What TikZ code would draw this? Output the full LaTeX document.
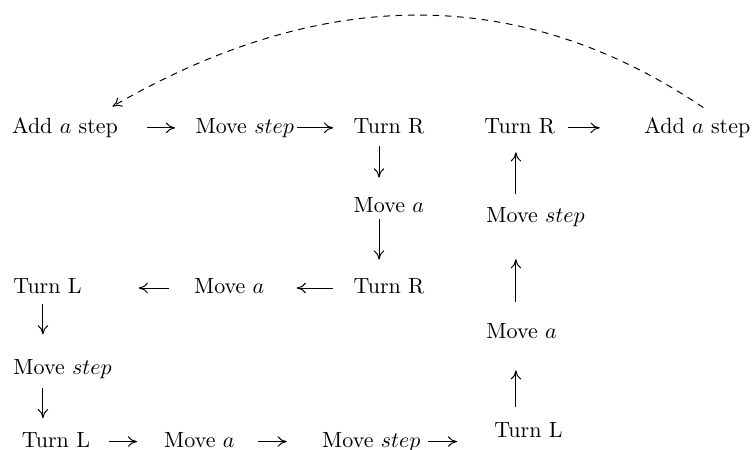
\documentclass[tikz,border=0pt]{standalone}
\usepackage{amsmath}
\usepackage{tikz}
\usetikzlibrary{positioning,arrows.meta}

\begin{document}
\begin{tikzpicture}[
    cmd/.style={inner sep=0pt,text height=7pt,text depth=2pt},
    arrow/.style={-{To[length=4.2pt,width=4.8pt]},line width=0.45pt},
    back/.style={-{To[length=4.2pt,width=4.8pt]},line width=0.45pt,dash pattern=on 3pt off 2.6pt}
]
\useasboundingbox (-5.3pt,58.1pt) rectangle (337.4pt,-146pt);

% top row
\node[cmd,anchor=west] (A1) at (0,0) {Add $a$ step};
\node[cmd,right=34.9pt of A1] (M1) {Move $step$};
\node[cmd,right=26.8pt of M1] (R1) {Turn R};
\node[cmd,right=26.9pt of R1] (R3) {Turn R};
\node[cmd,right=40.2pt of R3] (A2) {Add $a$ step};

% middle column
\node[cmd,below=26.8pt of R1.south west,anchor=north west] (Ma1) {Move $a$};
\node[cmd,below=27.2pt of Ma1.south west,anchor=north west] (R2) {Turn R};
\node[cmd,left=40.2pt of R2] (Ma2) {Move $a$};
\node[cmd,left=50.7pt of Ma2] (L1) {Turn L};

% left column and bottom row
\node[cmd,below=27.4pt of L1.south west,anchor=north west] (Ms2) {Move $step$};
\node[cmd,below=23.6pt of Ms2.south west,anchor=north west,xshift=3.8pt] (L2) {Turn L};
\node[cmd,right=33.3pt of L2] (Ma3) {Move $a$};
\node[cmd,right=39.5pt of Ma3] (Ms3) {Move $step$};

% right column
\node[cmd,below=31.1pt of R3.south west,anchor=north west,xshift=0.9pt] (Ms4) {Move $step$};
\node[cmd,below=43.3pt of Ms4.south west,anchor=north west] (Ma4) {Move $a$};
\node[cmd,below=35.8pt of Ma4.south west,anchor=north west,xshift=3.6pt] (L3) {Turn L};

\coordinate (c1) at ([xshift=13.6pt]L1.west);
\coordinate (c3) at ([xshift=11.7pt]R1.west);
\coordinate (c5) at ([xshift=14.5pt]R3.west);

\draw[arrow,shorten <=13pt,shorten >=9.1pt] (A1.east) -- (M1.west);
\draw[arrow,shorten <=1pt,shorten >=9.1pt] (M1.east) -- (R1.west);
\draw[arrow,shorten <=3.5pt,shorten >=8.9pt] (R1.south -| c3) -- (Ma1.north -| c3);
\draw[arrow,shorten <=0.7pt,shorten >=8.2pt] (Ma1.south -| c3) -- (R2.north -| c3);
\draw[arrow,shorten <=9.1pt,shorten >=14.5pt] (R2.west) -- (Ma2.east);
\draw[arrow,shorten <=11.4pt,shorten >=25.7pt] (Ma2.west) -- (L1.east);
\draw[arrow,shorten <=2.6pt,shorten >=11pt] (L1.south -| c1) -- (Ms2.north -| c1);
\draw[arrow,shorten <=4.1pt,shorten >=5.9pt] (Ms2.south -| c1) -- (L2.north -| c1);
\draw[arrow,shorten <=8.3pt,shorten >=12.1pt] (L2.east) -- (Ma3.west);
\draw[arrow,shorten <=10.7pt,shorten >=15.9pt] (Ma3.east) -- (Ms3.west);
\draw[arrow,shorten <=3.3pt,shorten >=16.7pt] (Ms3.east) -- (Ms3.east -| L3.west);
\draw[arrow,shorten <=6.6pt,shorten >=12.3pt] (L3.north -| c5) -- (Ma4.south -| c5);
\draw[arrow,shorten <=9.5pt,shorten >=14.5pt] (Ma4.north -| c5) -- (Ms4.south -| c5);
\draw[arrow,shorten <=5.8pt,shorten >=6.4pt] (Ms4.north -| c5) -- (R3.south -| c5);
\draw[arrow,shorten <=5.7pt,shorten >=20.1pt] (R3.east) -- (A2.west);

% back to the start
\draw[back] ([shift={(2.7pt,4.5pt)}]A2.north) to[out=146,in=30,looseness=1]
    ([shift={(-2.7pt,5pt)}]A1.north east);
\end{tikzpicture}
\end{document}
